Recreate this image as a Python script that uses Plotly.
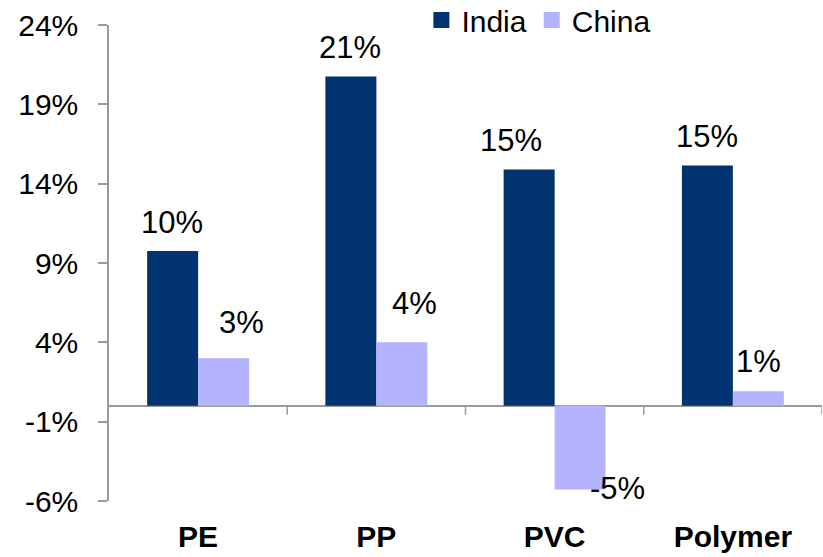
import plotly.graph_objects as go

# ---- data ----
categories = ["PE", "PP", "PVC", "Polymer"]
india = [9.75, 20.75, 14.9, 15.15]
china = [3.0, 4.0, -5.27, 0.92]
y_ticks = [-6, -1, 4, 9, 14, 19, 24]
y_tick_labels = [f"{t}%" for t in y_ticks]

# ---- style ----
INDIA_COLOR = "#00336F"
CHINA_COLOR = "#B3B3FF"
AXIS_COLOR = "#9A9A9A"
FONT = "Liberation Sans, Arial, sans-serif"
BARGAP = 0.428
LABEL_SIZE = 31
# label offsets in px (dx, dy) relative to bar centre / bar end
india_off = [(-1, 29), (-1, 29), (-18, 29), (0, 29)]
china_off = [(18, 36), (13, 39), (37, 1), (0, 30)]

fig = go.Figure()
fig.add_trace(go.Bar(x=categories, y=india, name="India", marker_color=INDIA_COLOR,
                     marker_line_width=0, showlegend=False))
fig.add_trace(go.Bar(x=categories, y=china, name="China", marker_color=CHINA_COLOR,
                     marker_line_width=0, showlegend=False))
# legend entries with bigger squares
for nm, col in [("India", INDIA_COLOR), ("China", CHINA_COLOR)]:
    fig.add_trace(go.Scatter(x=[None], y=[None], mode="markers", name=nm,
                             marker=dict(symbol="square", size=16, color=col)))

half = (1 - BARGAP) / 4
ann = []
for i, (v, (dx, dy)) in enumerate(zip(india, india_off)):
    ann.append(dict(x=i - half, y=v, xref="x", yref="y", text=f"{round(v):.0f}%",
                    showarrow=False, xshift=dx, yshift=dy, yanchor="middle",
                    font=dict(family=FONT, size=LABEL_SIZE, color="black")))
for i, (v, (dx, dy)) in enumerate(zip(china, china_off)):
    ann.append(dict(x=i + half, y=v, xref="x", yref="y", text=f"{round(v):.0f}%",
                    showarrow=False, xshift=dx, yshift=dy, yanchor="middle",
                    font=dict(family=FONT, size=LABEL_SIZE, color="black")))

shapes = []
for i in range(len(categories)):
    shapes.append(dict(type="line", xref="x", yref="y", x0=i + 0.5, x1=i + 0.5,
                       ysizemode="pixel", yanchor=0, y0=0, y1=-9,
                       line=dict(color=AXIS_COLOR, width=1.5)))

fig.update_layout(
    width=823, height=557,
    margin=dict(l=109, r=1, t=25, b=56, autoexpand=False),
    paper_bgcolor="white", plot_bgcolor="white",
    barmode="group", bargap=BARGAP, bargroupgap=0,
    font=dict(family=FONT, color="black"),
    annotations=ann, shapes=shapes,
    legend=dict(orientation="h", xref="container", yref="container",
                x=0.512, xanchor="left", y=1 - 20 / 557, yanchor="middle",
                font=dict(family=FONT, size=30), bgcolor="rgba(0,0,0,0)",
                itemclick=False),
    xaxis=dict(type="category", range=[-0.5, 3.5], showline=False, ticks="",
               showgrid=False, zeroline=False,
               tickfont=dict(family=FONT, size=30, color="black", weight="bold"),
               ticklabelstandoff=15),
    yaxis=dict(range=[-6, 24], tickvals=y_ticks, ticktext=y_tick_labels,
               showgrid=False, showline=True, linecolor=AXIS_COLOR, linewidth=1.5,
               ticks="outside", ticklen=9, tickcolor=AXIS_COLOR, tickwidth=1.5,
               zeroline=True, zerolinecolor=AXIS_COLOR, zerolinewidth=1.5,
               tickfont=dict(family=FONT, size=30, color="black"),
               ticklabelstandoff=14),
)

fig.write_html("out.html")
